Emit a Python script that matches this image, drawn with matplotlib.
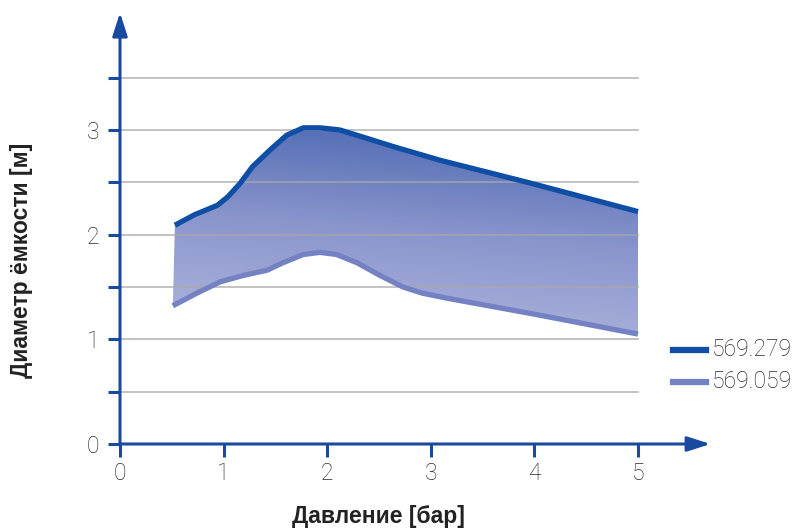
import numpy as np
import matplotlib
matplotlib.use("Agg")
from matplotlib import pyplot as plt
from matplotlib.colors import LinearSegmentedColormap
from matplotlib.patches import Polygon

# values
upperX = [0.53, 0.72, 0.94, 1.04, 1.16, 1.28, 1.45, 1.61, 1.77, 1.93, 2.12, 2.35, 2.64, 3.09, 3.93, 5.0]
upperY = [2.09, 2.19, 2.28, 2.36, 2.49, 2.65, 2.81, 2.95, 3.02, 3.02, 3.00, 2.93, 2.84, 2.71, 2.50, 2.22]
lowerX = [0.51, 0.74, 0.97, 1.19, 1.42, 1.57, 1.77, 1.93, 2.09, 2.29, 2.51, 2.73, 2.92, 3.17, 4.0, 5.0]
lowerY = [1.32, 1.44, 1.55, 1.61, 1.66, 1.73, 1.81, 1.83, 1.81, 1.73, 1.61, 1.50, 1.44, 1.39, 1.24, 1.05]
seriesNames = ['569.279', '569.059']
xTicks = [0, 1, 2, 3, 4, 5]
yTicks = [0, 1, 2, 3]

axisBlue = '#1a4aa0'
upperColor = '#0e4ea5'
lowerColor = '#7482c4'
textColor = '#2a2a2a'

plt.rcParams['font.family'] = ['Roboto', 'DejaVu Sans']

W, H = 797, 528
fig = plt.figure(figsize=(W / 100, H / 100), dpi=100)

# pixel mapping: x=0 at 120px, 103.6 px per unit; y=0 at 444px, 104.7 px per unit
xmax, ymax = 5.75, 4.15
ax = fig.add_axes([120 / W, (H - 444) / H, xmax * 103.6 / W, ymax * 104.7 / H])
ax.set_xlim(0, xmax)
ax.set_ylim(0, ymax)
for s in ax.spines.values():
    s.set_visible(False)

# grid lines every 0.5 up to 3.5
for g in np.arange(0.5, 3.51, 0.5):
    ax.plot([0, 5], [g, g], color='#a8a8a8', lw=1.3, alpha=0.75, zorder=4)

# gradient fill between the two curves
poly = list(zip(upperX, upperY)) + list(zip(lowerX[::-1], lowerY[::-1]))
patch = Polygon(poly, closed=True, facecolor='none', edgecolor='none')
ax.add_patch(patch)
cmap = LinearSegmentedColormap.from_list('fillgrad', ['#b2b8de', '#8a95cc', '#4664af'])
gx, gy = np.meshgrid(np.linspace(0, 1, 200), np.linspace(0, 1, 200))
grad = 0.85 * gy + 0.15 * gx
im = ax.imshow(grad, cmap=cmap, origin='lower', extent=[0.5, 5.0, 1.0, 3.05],
               aspect='auto', zorder=2, vmin=0, vmax=1)
im.set_clip_path(patch)

ax.plot(upperX, upperY, color=upperColor, lw=3.8, solid_capstyle='butt',
        solid_joinstyle='round', zorder=5)
ax.plot(lowerX, lowerY, color=lowerColor, lw=3.8, solid_capstyle='butt',
        solid_joinstyle='round', zorder=5)

# axes with arrows
ax.annotate('', xy=(xmax - 0.05, 0), xytext=(0, 0),
            arrowprops=dict(arrowstyle='-|>,head_length=1.4,head_width=0.45', color=axisBlue, lw=2.2,
                            shrinkA=0, shrinkB=0), zorder=6)
ax.annotate('', xy=(0, ymax - 0.03), xytext=(0, 0),
            arrowprops=dict(arrowstyle='-|>,head_length=1.4,head_width=0.45', color=axisBlue, lw=2.2,
                            shrinkA=0, shrinkB=0), zorder=6)

ax.set_xticks(xTicks)
ax.set_xticklabels([str(t) for t in xTicks])
ax.set_yticks(yTicks)
ax.set_yticklabels([str(t) for t in yTicks])
ax.set_yticks(np.arange(0.5, 3.51, 1.0), minor=True)
ax.tick_params(axis='both', which='both', direction='out', length=9, width=2.2,
               color=axisBlue, labelsize=16.5, labelcolor=textColor)
ax.tick_params(axis='y', which='major', pad=6)
ax.tick_params(axis='x', which='major', pad=4)
for lab in ax.get_xticklabels() + ax.get_yticklabels():
    lab.set_fontweight('light')

fig.text(378 / W, 1 - 516 / H, 'Давление [бар]', ha='center', va='center',
         fontsize=16.5, fontweight='bold', color='#222222', family=['Liberation Sans', 'DejaVu Sans'])
fig.text(22 / W, 1 - 260 / H, 'Диаметр ёмкости [м]', ha='center', va='center', rotation=90,
         fontsize=16.5, fontweight='bold', color='#222222', family=['Liberation Sans', 'DejaVu Sans'])

# legend drawn in figure coordinates
for i, (name, col) in enumerate(zip(seriesNames, [upperColor, lowerColor])):
    yy = 1 - (350 + 32 * i) / H
    fig.add_artist(plt.Line2D([673 / W, 706 / W], [yy, yy], color=col, lw=4.5, transform=fig.transFigure))
    fig.text(712 / W, yy, name, ha='left', va='center', fontsize=16.5, fontweight='light', color=textColor)

fig.savefig('out.png', dpi=100)
